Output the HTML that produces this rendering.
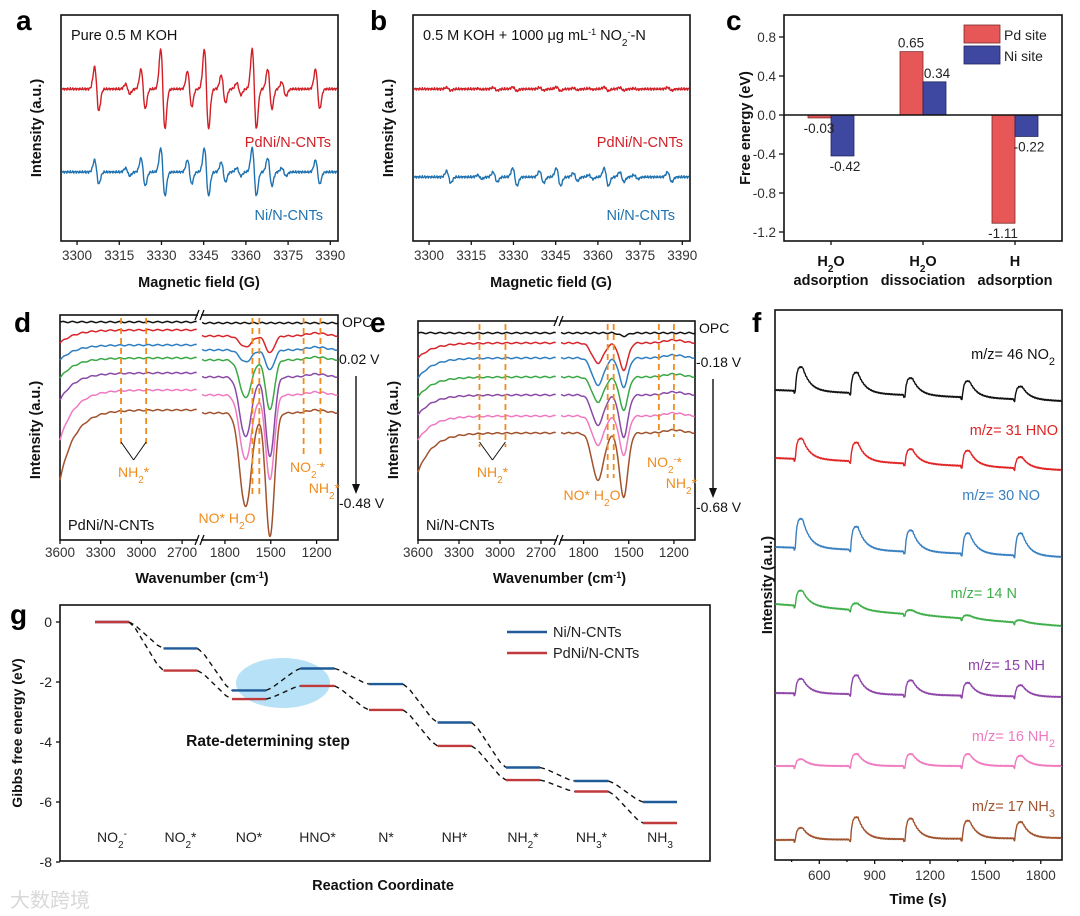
<!DOCTYPE html>
<html><head><meta charset="utf-8">
<style>body{margin:0;background:#fff}svg{display:block;font-family:"Liberation Sans","Noto Sans CJK SC",sans-serif}</style>
</head><body>
<svg id="fig" width="1080" height="916" viewBox="0 0 1080 916"></svg>
<script>
// ---------- DATA ----------
// panel a/b EPR
const eprFields = [3307, 3318, 3323.5, 3330.5, 3340, 3346, 3352, 3357.5, 3363, 3368.5, 3373.5, 3385.5];
const eprAPd = [22, 5, 20, 40, 18, 40, 14, 6, 40, 20, 7, 20];
const eprANi = [12, 4, 14, 24, 12, 24, 10, 4, 24, 14, 4, 12];
const eprBPd = [1.5, 0.5, 1.5, 2, 1.5, 2, 1, 0.5, 2, 1.5, 0.5, 1.5];
const eprBNi = [6, 2, 5, 9, 6, 9, 4, 2, 9, 5, 2, 5];
const eprBase = [152, 69];
const eprBaseB = [152, 64];
const eprTicks = [3300, 3315, 3330, 3345, 3360, 3375, 3390];
// panel c
const cCats = ['H2O|adsorption', 'H2O|dissociation', 'H|adsorption'];
const cPd = [-0.03, 0.65, -1.11];
const cNi = [-0.42, 0.34, -0.22];
const cTicks = [0.8, 0.4, 0.0, -0.4, -0.8, -1.2];
// panel d FTIR (OPC + 6 potentials)
const irColors = ['#111', '#d7262b', '#2f7fc0', '#3aa845', '#8a4aa6', '#ee7ac2', '#a0522d'];
const irDPlateau = [218, 210, 195, 182, 167, 150, 130];
const irDEdge = [218, 197, 180, 162, 140, 100, 60];
const irDRBase = [217, 204, 190, 180, 163, 145, 127];
const irDDip1 = [0, 11, 12, 38, 60, 65, 94];
const irDPeak = [0, -2, -2, -17, -20, -23, -30];
const irDDip2 = [0, 17, 20, 50, 80, 85, 124];
const irDCenters = [1665, 1575, 1505];
const irDDash = [3150, 2965, 1620, 1575, 1285, 1175];
// panel e
const irEPlateau = [207, 197, 182, 163, 145, 124, 107];
const irEEdge = [207, 182, 162, 143, 125, 100, 68];
const irERBase = [207, 197, 182, 163, 145, 124, 107];
const irEDip1 = [0, 20, 27, 25, 30, 29, 47];
const irEPeak = [0, -7, -7, -6, -8, -11, -14];
const irEDip2 = [3, 27, 29, 33, 42, 39, 64];
const irECenters = [1705, 1602, 1534];
const irEDash = [3150, 2960, 1640, 1600, 1300, 1200];
const irLeftTicks = [3600, 3300, 3000, 2700];
const irRightTicks = [1800, 1500, 1200];
// panel f MS
const msOnsets = [470, 770, 1065, 1375, 1660];
const msLabels = ['m/z= 46 NO<tspan baseline-shift="sub" font-size="11">2</tspan>', 'm/z= 31 HNO', 'm/z= 30 NO', 'm/z= 14 N', 'm/z= 15 NH', 'm/z= 16 NH<tspan baseline-shift="sub" font-size="11">2</tspan>', 'm/z= 17 NH<tspan baseline-shift="sub" font-size="11">3</tspan>'];
const msColors = ['#111', '#e02424', '#3a80c0', '#3fae4a', '#8e44a8', '#ef7ac0', '#a0522d'];
const msBaseStart = [470, 402, 313, 256, 167, 94, 20];
const msBaseEnd = [459, 390, 303, 234, 163, 94, 22];
const msAmps = [
  [28, 24, 20, 19, 15],
  [24, 22, 17, 18, 13],
  [34, 27, 25, 24, 26],
  [18, 8, 5, 4, 3],
  [17, 22, 17, 15, 13],
  [8, 14, 14, 14, 12],
  [14, 26, 24, 21, 19]
];
const msTicks = [600, 900, 1200, 1500, 1800];
// panel g
const gStates = ['NO<tspan baseline-shift="sub" font-size="10">2</tspan><tspan baseline-shift="super" font-size="10">-</tspan>', 'NO<tspan baseline-shift="sub" font-size="10">2</tspan>*', 'NO*', 'HNO*', 'N*', 'NH*', 'NH<tspan baseline-shift="sub" font-size="10">2</tspan>*', 'NH<tspan baseline-shift="sub" font-size="10">3</tspan>*', 'NH<tspan baseline-shift="sub" font-size="10">3</tspan>'];
const gNi = [0, -0.88, -2.28, -1.55, -2.07, -3.35, -4.85, -5.3, -6.0];
const gPd = [0, -1.62, -2.57, -2.13, -2.93, -4.13, -5.27, -5.65, -6.7];
const gTicks = [0, -2, -4, -6, -8];

// ---------- HELPERS ----------
const NS = 'http://www.w3.org/2000/svg';
const svg = document.getElementById('fig');
function mk(tag, attrs, name, parent) {
  const el = document.createElementNS(NS, tag);
  for (const k in attrs) el.setAttribute(k, attrs[k]);
  
  
  (parent || svg).appendChild(el);
  return el;
}
function tx(x, y, html, name, o) {
  o = o || {};
  const at = {x: x, y: y, 'font-size': o.fs || 14, fill: o.fill || '#222', 'text-anchor': o.anchor || 'start'};
  if (o.bold) at['font-weight'] = 'bold';
  if (o.rot) at.transform = 'rotate(-90 ' + x + ' ' + y + ')';
  const el = mk('text', at, name);
  el.innerHTML = html;
  return el;
}
function ln(x1, y1, x2, y2, name, o) {
  o = o || {};
  const at = {x1: x1, y1: y1, x2: x2, y2: y2, stroke: o.stroke || '#111', 'stroke-width': o.w || 1.3};
  if (o.dash) at['stroke-dasharray'] = o.dash;
  return mk('line', at, name);
}
function pth(pts, name, color, w, dash) {
  const d = 'M' + pts.map(p => p[0].toFixed(1) + ',' + p[1].toFixed(1)).join('L');
  const at = {d: d, fill: 'none', stroke: color, 'stroke-width': w || 1.4, 'stroke-linejoin': 'round'};
  if (dash) at['stroke-dasharray'] = dash;
  return mk('path', at, name);
}
function box(x, y, w, h, name) {
  return mk('rect', {x: x, y: y, width: w, height: h, fill: 'none', stroke: '#111', 'stroke-width': 1.6}, name);
}
function G(x, c, s) { return Math.exp(-(x - c) * (x - c) / (2 * s * s)); }
const SUB = s => '<tspan baseline-shift="sub" font-size="10">' + s + '</tspan>';

// ---------- PANEL LETTERS ----------
[['a', 16, 30], ['b', 370, 30], ['c', 726, 30], ['d', 14, 332], ['e', 370, 332], ['f', 752, 332], ['g', 10, 624]].forEach(p => {
  tx(p[1], p[2], p[0], 'panel-letter-' + p[0], {fs: 28, bold: true, fill: '#000'});
});

// ---------- PANEL A & B ----------
function eprPanel(x0, tag, base, ampPd, ampNi, note) {
  const fx = f => x0 + (f - 3294.3) * 2.814;
  const fy = v => 241 - v;
  box(x0, 15, 277, 226, 'epr-' + tag + '-plot-area');
  const series = [[ampPd, base[0], '#d21f26', 'pdni'], [ampNi, base[1], '#1f72b0', 'ni']];
  series.forEach(s => {
    const pts = [];
    for (let f = 3294.6; f <= 3392.5; f += 0.15) {
      let v = s[1];
      eprFields.forEach((c, i) => {
        const d = (f - c) / 0.75;
        v += -s[0][i] * d * Math.exp(0.5 - d * d / 2);
      });
      v += 0.8 * Math.sin(f * 7.3) + 0.5 * Math.sin(f * 13.1);
      pts.push([fx(f), fy(v)]);
    }
    pth(pts, 'epr-' + tag + '-' + s[3] + '-line', s[2], 1.4);
  });
  eprTicks.forEach(t => {
    ln(fx(t), 241, fx(t), 245, 'epr-' + tag + '-x-tick');
    tx(fx(t), 260, t, 'epr-' + tag + '-x-tick-label', {anchor: 'middle', fs: 13.5, fill: '#333'});
  });
  tx(x0 + 138, 287, 'Magnetic field (G)', 'epr-' + tag + '-x-axis-title', {anchor: 'middle', bold: true, fs: 14.5, fill: '#111'});
  tx(x0 - 20, 128, 'Intensity (a.u.)', 'epr-' + tag + '-y-axis-title', {anchor: 'middle', bold: true, fs: 14.5, rot: true, fill: '#111'});
  tx(x0 + 10, 40, note, 'epr-' + tag + '-condition-label', {fs: 14.5, fill: '#111'});
  tx(x0 + 270, 147, 'PdNi/N-CNTs', 'epr-' + tag + '-pdni-label', {anchor: 'end', fs: 14.5, fill: '#d21f26'});
  tx(x0 + 262, 220, 'Ni/N-CNTs', 'epr-' + tag + '-ni-label', {anchor: 'end', fs: 14.5, fill: '#1f72b0'});
}
eprPanel(61, 'a', eprBase, eprAPd, eprANi, 'Pure 0.5 M KOH');
eprPanel(413, 'b', eprBaseB, eprBPd, eprBNi, '0.5 M KOH + 1000 μg mL<tspan baseline-shift="super" font-size="9">-1</tspan> NO' + SUB('2') + '<tspan baseline-shift="super" font-size="9">-</tspan>-N');

// ---------- PANEL C ----------
(function () {
  const cy = v => 115 - v * 97.5;
  const cx = i => 831 + i * 92;
  box(784, 15, 278, 226, 'bar-chart-plot-area');
  cTicks.forEach(t => {
    ln(779, cy(t), 784, cy(t), 'bar-y-tick');
    tx(776, cy(t) + 5, t.toFixed(1), 'bar-y-tick-label', {anchor: 'end', fs: 13.5, fill: '#333'});
  });
  cCats.forEach((c, i) => {
    const pd = cPd[i], ni = cNi[i];
    mk('rect', {x: cx(i) - 23, y: Math.min(cy(0), cy(pd)), width: 23, height: Math.abs(cy(pd) - cy(0)), fill: '#e85757', stroke: '#7a2a2a', 'stroke-width': 0.8}, 'bar-pd-site');
    mk('rect', {x: cx(i), y: Math.min(cy(0), cy(ni)), width: 23, height: Math.abs(cy(ni) - cy(0)), fill: '#3f48a0', stroke: '#202560', 'stroke-width': 0.8}, 'bar-ni-site');
    tx(cx(i) - 12, pd >= 0 ? cy(pd) - 4 : cy(pd) + 15, pd.toFixed(2), 'bar-value-pd', {anchor: 'middle', fs: 13.5, fill: '#222'});
    tx(cx(i) + 14, ni >= 0 ? cy(ni) - 4 : cy(ni) + 15, ni.toFixed(2), 'bar-value-ni', {anchor: 'middle', fs: 13.5, fill: '#222'});
    ln(cx(i), 241, cx(i), 245, 'bar-x-tick');
    const parts = c.split('|');
    const top = parts[0] === 'H2O' ? 'H' + SUB('2') + 'O' : parts[0];
    tx(cx(i), 266, top, 'bar-x-label-species', {anchor: 'middle', bold: true, fs: 14.5, fill: '#111'});
    tx(cx(i), 285, parts[1], 'bar-x-label-process', {anchor: 'middle', bold: true, fs: 14.5, fill: '#111'});
  });
  ln(784, cy(0), 1062, cy(0), 'bar-zero-line', {w: 1.4});
  mk('rect', {x: 964, y: 25, width: 36, height: 18, fill: '#e85757', stroke: '#7a2a2a', 'stroke-width': 0.8}, 'legend-pd-site-swatch');
  mk('rect', {x: 964, y: 46, width: 36, height: 18, fill: '#3f48a0', stroke: '#202560', 'stroke-width': 0.8}, 'legend-ni-site-swatch');
  tx(1004, 40, 'Pd site', 'legend-pd-site-label', {fs: 14, fill: '#222'});
  tx(1004, 61, 'Ni site', 'legend-ni-site-label', {fs: 14, fill: '#222'});
  tx(750, 128, 'Free energy (eV)', 'bar-y-axis-title', {anchor: 'middle', bold: true, fs: 14.5, rot: true, fill: '#111'});
})();

// ---------- PANELS D & E ----------
function irPanel(o) {
  const L = o.x0, R = o.x1, T = o.top, B = 540;
  const xl = w => L + (3600 - w) / (3600 - 2590) * (o.brk0 - L);
  const xr = w => o.brk1 + (1950 - w) / (1950 - 1060) * (R - o.brk1);
  const yv = v => B - v;
  box(L, T, R - L, B - T, o.tag + '-plot-area');
  mk('rect', {x: o.brk0 + 1, y: T - 2, width: o.brk1 - o.brk0 - 2, height: 4, fill: '#fff'}, o.tag + '-axis-break-top');
  mk('rect', {x: o.brk0 + 1, y: B - 2, width: o.brk1 - o.brk0 - 2, height: 4, fill: '#fff'}, o.tag + '-axis-break-bottom');
  [T, B].forEach(yy => {
    ln(o.brk0 - 2, yy + 5, o.brk0 + 2, yy - 5, o.tag + '-break-mark');
    ln(o.brk1 - 2, yy + 5, o.brk1 + 2, yy - 5, o.tag + '-break-mark');
  });
  const c = o.centers;
  for (let k = 0; k < 7; k++) {
    const lp = [];
    for (let w = 3600; w >= 2590; w -= 8) {
      const v = o.plateau[k] - (o.plateau[k] - o.edge[k]) * Math.exp(-(3600 - w) / 110) + 0.6 * Math.sin(w * 0.09);
      lp.push([xl(w), yv(v)]);
    }
    pth(lp, o.tag + '-spectrum-left-' + k, irColors[k], 1.5);
    const d1 = o.dip1[k], d2 = o.dip2[k];
    const bump = o.peak[k] + d1 * G(c[1], c[0], 38) + d2 * G(c[1], c[2], 28);
    const rp = [];
    for (let w = 1950; w >= 1060; w -= 4) {
      let v = o.rbase[k] - d1 * G(w, c[0], 38) - d2 * G(w, c[2], 28) + Math.max(0, bump) * G(w, c[1], 14);
      v += 0.6 * Math.sin(w * 0.11) + (k > 0 ? 3 * G(w, 1200, 60) : 0);
      rp.push([xr(w), yv(v)]);
    }
    pth(rp, o.tag + '-spectrum-right-' + k, irColors[k], 1.5);
  }
  o.dash.forEach((w, i) => {
    const x = i < 2 ? xl(w) : xr(w);
    const yb = i < 2 ? o.dashLeftBot : (i < 4 ? o.dashMidBot : o.dashRightBot);
    ln(x, T + 3, x, yb, o.tag + '-band-marker', {stroke: '#f08c1e', w: 1.8, dash: '6,4'});
  });
  irLeftTicks.forEach(t => {
    ln(xl(t), B, xl(t), B + 4, o.tag + '-x-tick');
    tx(xl(t), 557, t, o.tag + '-x-tick-label', {anchor: 'middle', fs: 13.5, fill: '#333'});
  });
  irRightTicks.forEach(t => {
    ln(xr(t), B, xr(t), B + 4, o.tag + '-x-tick');
    tx(xr(t), 557, t, o.tag + '-x-tick-label', {anchor: 'middle', fs: 13.5, fill: '#333'});
  });
  tx((L + R) / 2 + 3, 583, 'Wavenumber (cm<tspan baseline-shift="super" font-size="9">-1</tspan>)', o.tag + '-x-axis-title', {anchor: 'middle', bold: true, fs: 14.5, fill: '#111'});
  tx(L - 20, 430, 'Intensity (a.u.)', o.tag + '-y-axis-title', {anchor: 'middle', bold: true, fs: 14.5, rot: true, fill: '#111'});
  const or = '#f08c1e';
  const ax = (xl(o.dash[0]) + xl(o.dash[1])) / 2;
  ln(xl(o.dash[0]), o.dashLeftBot - 5, ax, o.dashLeftBot + 13, o.tag + '-nh2-arrow', {w: 1});
  ln(xl(o.dash[1]), o.dashLeftBot - 5, ax, o.dashLeftBot + 13, o.tag + '-nh2-arrow', {w: 1});
  tx(ax, o.dashLeftBot + 30, 'NH' + SUB('2') + '*', o.tag + '-nh2-label', {anchor: 'middle', fs: 14, fill: or});
  tx(o.noX, o.noY, 'NO* H' + SUB('2') + 'O', o.tag + '-no-h2o-label', {anchor: 'middle', fs: 14, fill: or});
  tx(R - 13, o.no2Y, 'NO' + SUB('2') + '<tspan baseline-shift="super" font-size="9">-</tspan>*', o.tag + '-no2-label', {anchor: 'end', fs: 14, fill: or});
  tx(R + 2, o.no2Y + 21, 'NH' + SUB('2') + '*', o.tag + '-nh2-right-label', {anchor: 'end', fs: 14, fill: or});
  tx(L + 8, 530, o.sample, o.tag + '-sample-label', {fs: 14.5, fill: '#111'});
  tx(R + 4, T + 12, 'OPC', o.tag + '-opc-label', {fs: 14, fill: '#111'});
  tx(R + 1, o.v1y, o.v1, o.tag + '-start-potential', {fs: 14, fill: '#111'});
  tx(R + 1, o.v2y, o.v2, o.tag + '-end-potential', {fs: 14, fill: '#111'});
  ln(R + 18, o.v1y + 12, R + 18, o.v2y - 22, o.tag + '-potential-arrow', {w: 1.4});
  mk('polygon', {points: (R + 14) + ',' + (o.v2y - 24) + ' ' + (R + 22) + ',' + (o.v2y - 24) + ' ' + (R + 18) + ',' + (o.v2y - 14), fill: '#111'}, o.tag + '-potential-arrowhead');
}
irPanel({tag: 'ftir-d', x0: 60, x1: 338, top: 315, brk0: 197, brk1: 202, plateau: irDPlateau, edge: irDEdge, rbase: irDRBase,
  dip1: irDDip1, peak: irDPeak, dip2: irDDip2, centers: irDCenters, dash: irDDash,
  dashLeftBot: 447, dashMidBot: 497, dashRightBot: 455, noX: 227, noY: 523, no2Y: 472,
  sample: 'PdNi/N-CNTs', v1: '0.02 V', v1y: 364, v2: '-0.48 V', v2y: 508});
irPanel({tag: 'ftir-e', x0: 418, x1: 695, top: 321, brk0: 556, brk1: 561, plateau: irEPlateau, edge: irEEdge, rbase: irERBase,
  dip1: irEDip1, peak: irEPeak, dip2: irEDip2, centers: irECenters, dash: irEDash,
  dashLeftBot: 447, dashMidBot: 478, dashRightBot: 437, noX: 592, noY: 500, no2Y: 467,
  sample: 'Ni/N-CNTs', v1: '-0.18 V', v1y: 367, v2: '-0.68 V', v2y: 512});

// ---------- PANEL F ----------
(function () {
  const fx = t => 775 + (t - 360) / 1555 * 287;
  const fy = v => 860 - v;
  box(775, 310, 287, 550, 'ms-plot-area');
  for (let k = 0; k < 7; k++) {
    const pts = [];
    for (let t = 362; t <= 1913; t += 2) {
      let v = msBaseStart[k] + (msBaseEnd[k] - msBaseStart[k]) * (t - 360) / 1555;
      msOnsets.forEach((on, i) => {
        const d = t - on;
        if (d > -8 && d < 0) v -= 2;
        if (d >= 0) {
          const rise = 1 - Math.exp(-d / 9);
          const dec = d < 40 ? 1 - 0.15 * (d / 40) : 0.85 * Math.exp(-(d - 40) / 40);
          v += msAmps[k][i] * rise * dec;
        }
      });
      v += 0.5 * Math.sin(t * 0.7);
      pts.push([fx(t), fy(v)]);
    }
    pth(pts, 'ms-trace-' + k, msColors[k], 1.4);
  }
  const ly = [359, 435, 500, 598, 670, 741, 811];
  const lx = [1055, 1058, 1040, 1017, 1045, 1055, 1055];
  msLabels.forEach((l, k) => tx(lx[k], ly[k], l, 'ms-trace-label', {anchor: 'end', fs: 14.5, fill: msColors[k]}));
  msTicks.forEach(t => {
    ln(fx(t), 860, fx(t), 864, 'ms-x-tick');
    tx(fx(t), 880, t, 'ms-x-tick-label', {anchor: 'middle', fs: 13.5, fill: '#333'});
  });
  [450, 750, 1050, 1350, 1650].forEach(t => ln(fx(t), 860, fx(t), 862, 'ms-x-minor-tick'));
  tx(918, 904, 'Time (s)', 'ms-x-axis-title', {anchor: 'middle', bold: true, fs: 15, fill: '#111'});
  tx(772, 585, 'Intensity (a.u.)', 'ms-y-axis-title', {anchor: 'middle', bold: true, fs: 14.5, rot: true, fill: '#111'});
})();

// ---------- PANEL G ----------
(function () {
  const gx = i => 112 + i * 68.5;
  const gy = v => 622 - v * 30;
  mk('ellipse', {cx: 283, cy: 683, rx: 47, ry: 25, fill: '#a9dcf5', opacity: 0.85}, 'rate-determining-highlight');
  box(60, 605, 650, 256, 'energy-plot-area');
  gTicks.forEach(t => {
    ln(56, gy(t), 60, gy(t), 'energy-y-tick');
    tx(52, gy(t) + 5, t, 'energy-y-tick-label', {anchor: 'end', fs: 14, fill: '#222'});
  });
  [[gNi, '#1f5a99', 'ni'], [gPd, '#c0393b', 'pdni']].forEach(s => {
    s[0].forEach((v, i) => {
      ln(gx(i) - 17, gy(v), gx(i) + 17, gy(v), 'energy-level-' + s[2], {stroke: s[1], w: 2.4});
      if (i < s[0].length - 1) {
        const nv = s[0][i + 1];
        const sx = gx(i) + 17, ex = gx(i + 1) - 17;
        const dp = [[sx, gy(v)], [sx + 6, gy(v) + (gy(nv) - gy(v)) * 0.12], [ex - 6, gy(nv) - (gy(nv) - gy(v)) * 0.12], [ex, gy(nv)]];
        pth(dp, 'energy-connector-' + s[2], '#111', 1.4, '5,4');
      }
    });
  });
  gStates.forEach((st, i) => tx(gx(i), 842, st, 'energy-state-label', {anchor: 'middle', fs: 14, fill: '#222'}));
  tx(268, 746, 'Rate-determining step', 'rate-determining-label', {anchor: 'middle', bold: true, fs: 15.5, fill: '#111'});
  ln(507, 632, 547, 632, 'legend-ni-line', {stroke: '#1f5a99', w: 2.4});
  ln(507, 653, 547, 653, 'legend-pdni-line', {stroke: '#c0393b', w: 2.4});
  tx(553, 637, 'Ni/N-CNTs', 'legend-ni-label', {fs: 14.5, fill: '#222'});
  tx(553, 658, 'PdNi/N-CNTs', 'legend-pdni-label', {fs: 14.5, fill: '#222'});
  tx(22, 733, 'Gibbs free energy (eV)', 'energy-y-axis-title', {anchor: 'middle', bold: true, fs: 14, rot: true, fill: '#111'});
  tx(383, 890, 'Reaction Coordinate', 'energy-x-axis-title', {anchor: 'middle', bold: true, fs: 14.5, fill: '#111'});
  tx(10, 907, '大数跨境', 'watermark', {fs: 20, fill: '#d8d8d8'});
})();
</script>
</body></html>
